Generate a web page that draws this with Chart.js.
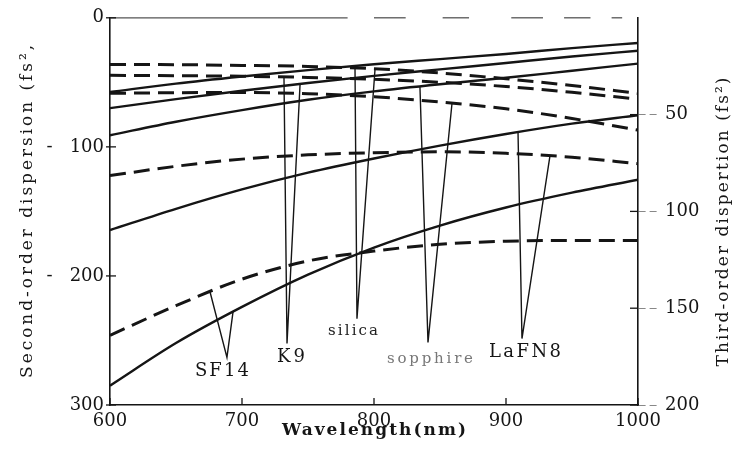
<!DOCTYPE html>
<html>
<head>
<meta charset="utf-8">
<script src="https://cdn.jsdelivr.net/npm/chart.js@4/dist/chart.umd.min.js"></script>
<style>
html,body{margin:0;padding:0;background:#fff;}
#wrap{width:735px;height:464px;position:relative;}
</style>
</head>
<body>
<div id="wrap"><canvas id="c" width="735" height="464"></canvas></div>
<script>
// ---------- data ----------
const wavelengths = [600, 650, 700, 750, 800, 850, 900, 950, 1000];
const materials = ['SF14', 'K9', 'silica', 'sopphire', 'LaFN8'];

// second-order dispersion (left axis)
const gvdSF14     = [285, 252, 224, 199, 178, 161, 147, 135.5, 125.5];
const gvdK9       = [70, 63, 56.5, 50.5, 45, 40, 35, 30, 25.5];
const gvdSilica   = [57.5, 51, 45.5, 40.5, 36, 32, 28, 23.5, 19.5];
const gvdSapphire = [91, 80.5, 71.5, 63.5, 57, 51.5, 46.5, 41, 35.5];
const gvdLaFN8    = [164.5, 148, 133, 120, 109, 99, 90, 82, 75.5];

// third-order dispersion (right axis)
const todSF14     = [164, 148.7, 135, 125.6, 120.5, 117, 115.4, 115, 115];
const todK9       = [29.7, 29.9, 30.2, 30.8, 31.8, 33.3, 35.5, 38.5, 42];
const todSilica   = [24.1, 24.2, 24.6, 25.1, 26.3, 28.5, 31.5, 35, 39];
const todSapphire = [39, 38.7, 38.6, 39.2, 40.8, 43.5, 47, 52, 58];
const todLaFN8    = [81.5, 76.7, 73, 70.8, 69.7, 69.2, 70, 72, 75.4];

// tick values and labels
const xTickValues     = [600, 700, 800, 900, 1000];
const xTickLabels     = ['600', '700', '800', '900', '1000'];
const leftTickValues  = [0, 100, 200, 300];
const leftTickLabels  = ['0', '-   100', '-   200', '300'];
const rightTickValues = [0, 50, 100, 150, 200];
const rightTickLabels = ['', '50', '100', '150', '200'];

// axis titles
const xTitle     = 'Wavelength(nm)';
const leftTitle  = 'Second-order dispersion (fs\u00B2,';
const rightTitle = 'Third-order dispertion (fs\u00B2)';

// annotation callouts (label anchor & apex in [nm, left-axis units]; tips: wavelength on a curve)
const calloutNames  = ['SF14', 'K9', 'silica', 'sopphire', 'LaFN8'];
const calloutLabel  = [[684.8, 273.8], [737.1, 263.1], [784.1, 243.1], [842.4, 264.6], [914.4, 259.2]];
const calloutApex   = [[688.6, 263.1], [734.1, 252.3], [787.1, 233.1], [840.9, 251.5], [912.1, 248.5]];
const calloutTodNm  = [675.8, 731.8, 800.8, 859.1, 933.3];
const calloutGvdNm  = [693.2, 744.0, 785.6, 834.8, 909.1];

// ---------- build ----------
const gvdBy = {SF14: gvdSF14, K9: gvdK9, silica: gvdSilica, sopphire: gvdSapphire, LaFN8: gvdLaFN8};
const todBy = {SF14: todSF14, K9: todK9, silica: todSilica, sopphire: todSapphire, LaFN8: todLaFN8};
const toPts = arr => wavelengths.map((w, i) => ({x: w, y: arr[i]}));
function interp(arr, nm) {
  for (let i = 0; i < wavelengths.length - 1; i++) {
    if (nm >= wavelengths[i] && nm <= wavelengths[i + 1]) {
      const t = (nm - wavelengths[i]) / (wavelengths[i + 1] - wavelengths[i]);
      return arr[i] + t * (arr[i + 1] - arr[i]);
    }
  }
  return arr[arr.length - 1];
}
const labelFor = (values, labels) => v => {
  const k = values.indexOf(v);
  return k < 0 ? '' : labels[k];
};

const INK = '#151515';
const SERIF = '"DejaVu Serif", "Liberation Serif", serif';

const datasets = [];
materials.forEach(m => datasets.push({
  label: m + ' second-order', data: toPts(gvdBy[m]), yAxisID: 'y',
  borderColor: INK, borderWidth: 2.4, pointRadius: 0, fill: false,
  cubicInterpolationMode: 'monotone'
}));
materials.forEach(m => datasets.push({
  label: m + ' third-order', data: toPts(todBy[m]), yAxisID: 'y1',
  borderColor: INK, borderWidth: 3, borderDash: [16, 8], pointRadius: 0, fill: false,
  cubicInterpolationMode: 'monotone'
}));

function spacedText(ctx, text, cx, cy, span, rot, font, color) {
  ctx.save();
  ctx.font = font;
  ctx.fillStyle = color;
  ctx.translate(cx, cy);
  ctx.rotate(rot);
  ctx.letterSpacing = '0px';
  const w = ctx.measureText(text).width;
  const sp = text.length > 1 ? Math.max(0, (span - w) / (text.length - 1)) : 0;
  ctx.letterSpacing = sp + 'px';
  ctx.textAlign = 'left';
  ctx.textBaseline = 'middle';
  ctx.fillText(text, -span / 2, 0);
  ctx.restore();
}

const decor = {
  id: 'decor',
  afterDatasetsDraw(chart) {
    const ctx = chart.ctx, a = chart.chartArea;
    const xs = chart.scales.x, ys = chart.scales.y, y1 = chart.scales.y1;
    // broken top frame
    ctx.save();
    ctx.strokeStyle = '#555';
    ctx.lineWidth = 1.3;
    const W = a.right - a.left;
    [[0, 0.45], [0.5, 0.56], [0.63, 0.68], [0.76, 0.82], [0.86, 0.91], [0.95, 0.97]].forEach(s => {
      ctx.beginPath();
      ctx.moveTo(a.left + s[0] * W, a.top);
      ctx.lineTo(a.left + s[1] * W, a.top);
      ctx.stroke();
    });
    ctx.restore();
    // inward tick marks
    ctx.save();
    ctx.strokeStyle = INK;
    ctx.lineWidth = 1.3;
    xs.ticks.forEach(t => {
      const px = xs.getPixelForValue(t.value);
      ctx.beginPath(); ctx.moveTo(px, a.bottom); ctx.lineTo(px, a.bottom - 7); ctx.stroke();
    });
    ys.ticks.forEach(t => {
      const py = ys.getPixelForValue(t.value);
      ctx.beginPath(); ctx.moveTo(a.left - 4, py); ctx.lineTo(a.left + 6, py); ctx.stroke();
    });
    y1.ticks.forEach(t => {
      if (t.value === 0) return;
      const py = y1.getPixelForValue(t.value);
      ctx.beginPath(); ctx.moveTo(a.right, py); ctx.lineTo(a.right - 8, py); ctx.stroke();
    });
    ctx.restore();
    // callouts
    ctx.save();
    ctx.strokeStyle = INK;
    ctx.lineWidth = 1.4;
    calloutNames.forEach((name, i) => {
      const ax = xs.getPixelForValue(calloutApex[i][0]);
      const ay = ys.getPixelForValue(calloutApex[i][1]);
      const tx1 = xs.getPixelForValue(calloutTodNm[i]);
      const ty1 = y1.getPixelForValue(interp(todBy[name], calloutTodNm[i]));
      const tx2 = xs.getPixelForValue(calloutGvdNm[i]);
      const ty2 = ys.getPixelForValue(interp(gvdBy[name], calloutGvdNm[i]));
      ctx.beginPath();
      ctx.moveTo(tx1, ty1); ctx.lineTo(ax, ay); ctx.lineTo(tx2, ty2);
      ctx.stroke();
    });
    ctx.restore();
    const labelStyle = {
      SF14:     {size: 18, span: 54, color: INK},
      K9:       {size: 18, span: 28, color: INK},
      silica:   {size: 15, span: 50, color: '#222'},
      sopphire: {size: 15, span: 86, color: '#777'},
      LaFN8:    {size: 18, span: 72, color: INK}
    };
    calloutNames.forEach((name, i) => {
      const st = labelStyle[name];
      spacedText(ctx, name, xs.getPixelForValue(calloutLabel[i][0]), ys.getPixelForValue(calloutLabel[i][1]),
        st.span, 0, st.size + 'px ' + SERIF, st.color);
    });
    // axis titles
    spacedText(ctx, xTitle, (a.left + a.right) / 2, a.bottom + 26, 184, 0, '600 17px ' + SERIF, INK);
    spacedText(ctx, leftTitle, a.left - 82, (a.top + a.bottom) / 2, 333, -Math.PI / 2, '17px ' + SERIF, INK);
    spacedText(ctx, rightTitle, a.right + 86, 222, 289, -Math.PI / 2, '17px ' + SERIF, INK);
  }
};

new Chart(document.getElementById('c'), {
  type: 'line',
  data: {datasets},
  plugins: [decor],
  options: {
    responsive: false,
    devicePixelRatio: 1,
    animation: false,
    layout: {padding: {top: 15, left: 0, right: 0, bottom: 0}},
    plugins: {legend: {display: false}, tooltip: {enabled: false}},
    scales: {
      x: {
        type: 'linear', min: 600, max: 1000,
        ticks: {stepSize: 100, padding: 6, color: INK, font: {family: SERIF, size: 18},
          callback: labelFor(xTickValues, xTickLabels)},
        grid: {drawOnChartArea: false, drawTicks: false},
        border: {color: INK, width: 1.6},
        afterFit: s => { s.height = 59; }
      },
      y: {
        position: 'left', min: 0, max: 300, reverse: true,
        ticks: {stepSize: 100, padding: 6, color: INK, font: {family: SERIF, size: 18},
          callback: labelFor(leftTickValues, leftTickLabels)},
        grid: {drawOnChartArea: false, drawTicks: false},
        border: {color: INK, width: 1.6},
        afterFit: s => { s.width = 110; }
      },
      y1: {
        position: 'right', min: 0, max: 200, reverse: true,
        ticks: {stepSize: 50, padding: 7, color: INK, font: {family: SERIF, size: 18},
          callback: labelFor(rightTickValues, rightTickLabels)},
        grid: {drawOnChartArea: false, drawTicks: true, tickLength: 20, tickWidth: 1.2,
          tickBorderDash: [7, 4],
          tickColor: c => (c.tick && c.tick.value === 0) ? 'rgba(0,0,0,0)' : '#888'},
        border: {color: INK, width: 1.6},
        afterFit: s => { s.width = 97; }
      }
    }
  }
});
</script>
</body>
</html>
